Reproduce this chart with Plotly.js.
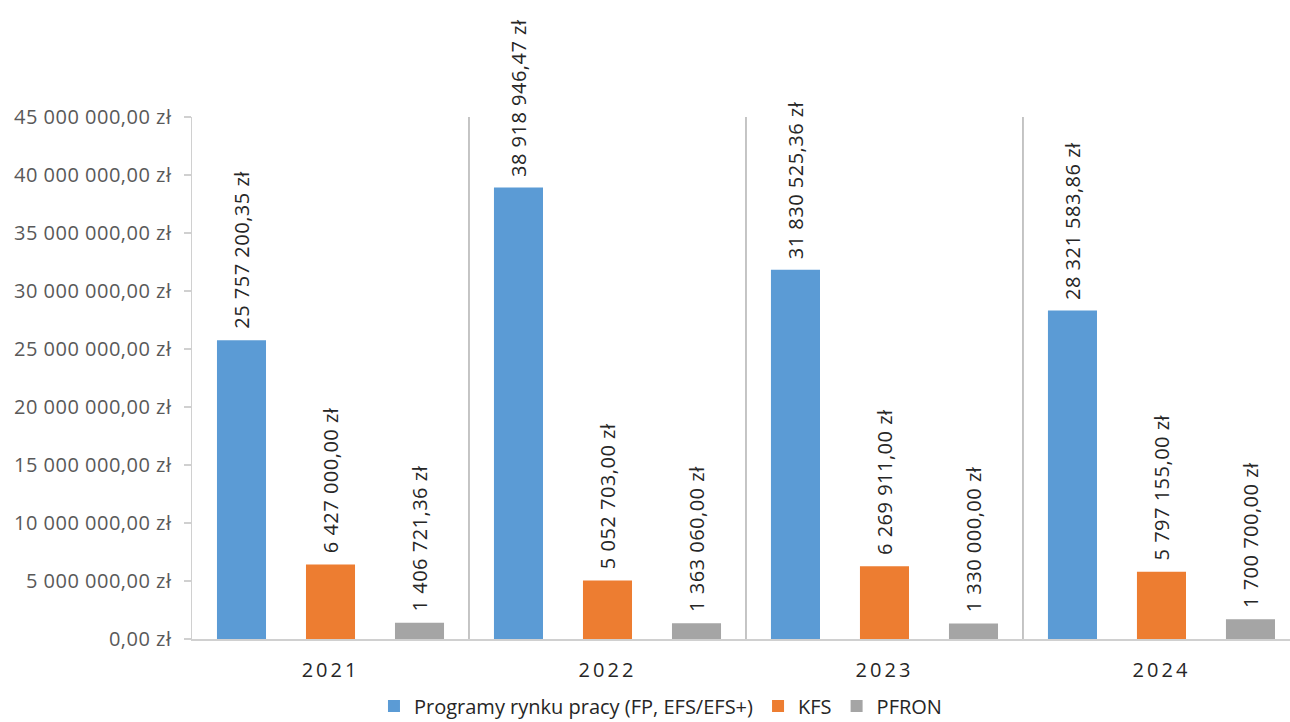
<!DOCTYPE html>
<html><head><meta charset="utf-8">
<script src="https://cdn.plot.ly/plotly-3.0.1.min.js"></script>
<style>
body{margin:0;background:#fff;}
#chart .xtick text{letter-spacing:3px;}
#chart .ytick text, #chart .annotation-text{letter-spacing:0.5px;}
</style>
</head><body>
<div id="chart" style="width:1290px;height:722px;"></div>
<script>
const years = ["2021", "2022", "2023", "2024"];
const seriesNames = ["Programy rynku pracy (FP, EFS/EFS+)", "KFS", "PFRON"];
const programy = [25757200.35, 38918946.47, 31830525.36, 28321583.86];
const kfs = [6427000.00, 5052703.00, 6269911.00, 5797155.00];
const pfron = [1406721.36, 1363060.00, 1330000.00, 1700700.00];
const yTicks = [0, 5000000, 10000000, 15000000, 20000000, 25000000, 30000000, 35000000, 40000000, 45000000];
const colors = ["#5b9bd5", "#ed7d31", "#a5a5a5"];

function fmt(v){
  const parts = v.toFixed(2).split(".");
  const int = parts[0].replace(/\B(?=(\d{3})+(?!\d))/g, " ");
  return int + "," + parts[1] + " zł";
}

const allSeries = [programy, kfs, pfron];
const traces = allSeries.map((vals, i) => ({
  type: "bar", x: years, y: vals, name: seriesNames[i],
  marker: {color: colors[i]}, hoverinfo: "skip"
}));

const slotPx = 89;
const annotations = [];
allSeries.forEach((vals, i) => {
  vals.forEach((v, j) => {
    annotations.push({
      x: j, y: v, xref: "x", yref: "y",
      text: fmt(v), textangle: -90, showarrow: false,
      xanchor: "center", yanchor: "bottom",
      xshift: (i - 1) * slotPx, yshift: 13,
      font: {family: "Open Sans", size: 20, color: "#262626"}
    });
  });
});

const shapes = [0.5, 1.5, 2.5].map(p => ({
  type: "line", xref: "x", yref: "y", x0: p, x1: p, y0: 0, y1: 45000000,
  line: {color: "#a6a6a6", width: 1.3}
}));

const layout = {
  width: 1290, height: 722,
  margin: {l: 192, r: 0, t: 117, b: 83},
  paper_bgcolor: "#fff", plot_bgcolor: "#fff",
  barmode: "group", bargap: 0.036, bargroupgap: 0.449,
  showlegend: true,
  legend: {orientation: "h", xref: "container", yref: "container", x: 0.512, y: 0.022,
    xanchor: "center", yanchor: "middle",
    font: {family: "Open Sans", size: 20, color: "#262626"}, itemwidth: 30, traceorder: "normal"},
  xaxis: {type: "category", range: [-0.5, 3.464], showgrid: false, zeroline: false,
    showline: true, linecolor: "#d0d0d0", linewidth: 1.5, ticks: "",
    tickfont: {family: "Open Sans", size: 20, color: "#262626"}, ticklabelstandoff: 12, fixedrange: true},
  yaxis: {range: [0, 45000000], tickmode: "array", tickvals: yTicks, ticktext: yTicks.map(fmt),
    showgrid: false, zeroline: false,
    showline: true, linecolor: "#d0d0d0", linewidth: 1.5, ticks: "outside", ticklen: 7,
    tickcolor: "#d0d0d0", tickwidth: 1.5,
    tickfont: {family: "Open Sans", size: 20, color: "#595959"}, ticklabelstandoff: 8, fixedrange: true},
  annotations: annotations, shapes: shapes
};

Plotly.newPlot("chart", traces, layout, {displayModeBar: false, staticPlot: true});
</script>
</body></html>
